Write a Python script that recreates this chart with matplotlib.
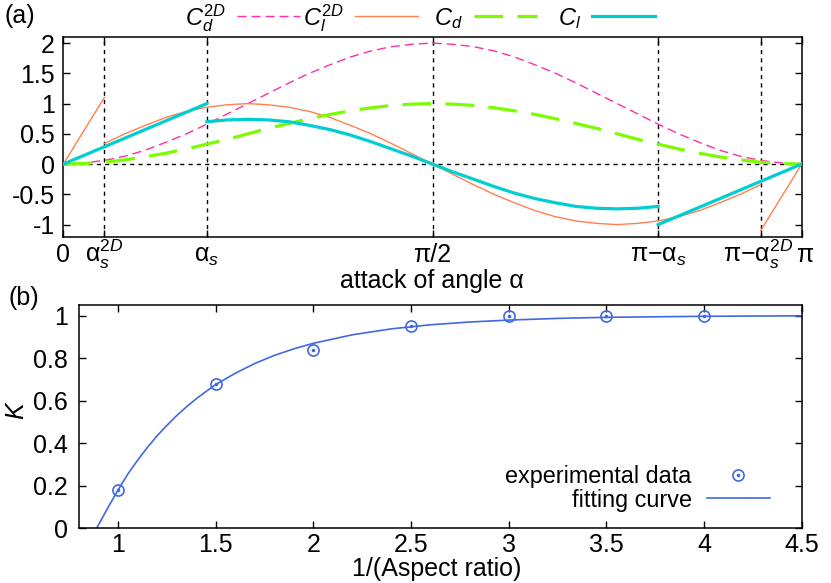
import matplotlib
matplotlib.use('Agg')
import matplotlib.pyplot as plt
from matplotlib.lines import Line2D
from matplotlib.transforms import ScaledTranslation
import numpy as np

# ---- panel (a): force coefficients vs angle of attack (degrees) ----
alpha_deg = list(range(0, 181, 5))

# 2D drag and 3D drag, sampled every 5 degrees
cd2d = [0.00, 0.02, 0.06, 0.13, 0.23, 0.36, 0.50, 0.66, 0.83, 1.00,
        1.17, 1.34, 1.50, 1.64, 1.77, 1.87, 1.94, 1.98, 2.00,
        1.98, 1.94, 1.87, 1.77, 1.64, 1.50, 1.34, 1.17, 1.00,
        0.83, 0.66, 0.50, 0.36, 0.23, 0.13, 0.06, 0.02, 0.00]
cd = [0.00, 0.01, 0.03, 0.07, 0.12, 0.18, 0.25, 0.33, 0.41, 0.50,
      0.59, 0.67, 0.75, 0.82, 0.88, 0.93, 0.97, 0.99, 1.00,
      0.99, 0.97, 0.93, 0.88, 0.82, 0.75, 0.67, 0.59, 0.50,
      0.41, 0.33, 0.25, 0.18, 0.12, 0.07, 0.03, 0.01, 0.00]

# 2D lift: linear before stall, smooth part, linear after
cl2d_start_deg = [0, 10]
cl2d_start = [0.00, 1.10]
cl2d_mid_deg = list(range(10, 171, 5))
cl2d_mid = [0.34, 0.50, 0.64, 0.77, 0.87, 0.94, 0.98, 1.00, 0.98, 0.94,
            0.87, 0.77, 0.64, 0.50, 0.34, 0.17, 0.00, -0.17, -0.34, -0.50,
            -0.64, -0.77, -0.87, -0.94, -0.98, -1.00, -0.98, -0.94, -0.87,
            -0.77, -0.64, -0.50, -0.34]
cl2d_end_deg = [170, 180]
cl2d_end = [-1.10, 0.00]

# 3D lift
cl_start_deg = [0, 35]
cl_start = [0.00, 1.00]
cl_mid_deg = list(range(35, 146, 5))
cl_mid = [0.70, 0.73, 0.74, 0.73, 0.70, 0.64, 0.57, 0.48, 0.37, 0.25,
          0.13, 0.00, -0.13, -0.25, -0.37, -0.48, -0.57, -0.64, -0.70,
          -0.73, -0.74, -0.73, -0.70]
cl_end_deg = [145, 180]
cl_end = [-1.00, 0.00]

# special angles
mark_deg = [10, 35, 90, 145, 170]
tick_deg = [0, 10, 35, 90, 145, 170, 180]
tick_labels = ['0', 'α$_s^{2D}$', 'α$_s$', 'π/2', 'π−α$_s$', 'π−α$_s^{2D}$', 'π']

# ---- panel (b): K vs 1/(aspect ratio) ----
inv_ar = [1.0, 1.5, 2.0, 2.5, 3.0, 3.5, 4.0]
k_exp = [0.18, 0.68, 0.84, 0.95, 1.00, 1.00, 1.00]
fit_x = [0.85, 0.89, 0.95, 1.0, 1.05, 1.1, 1.15, 1.2, 1.25, 1.3, 1.35, 1.4,
         1.45, 1.5, 1.6, 1.7, 1.8, 1.9, 2.0, 2.2, 2.4, 2.6, 2.8, 3.0,
         3.25, 3.5, 4.0, 4.5]
fit_k = [-0.08, 0.00, 0.10, 0.18, 0.255, 0.32, 0.38, 0.435, 0.484, 0.53,
         0.571, 0.609, 0.643, 0.676, 0.729, 0.775, 0.813, 0.844, 0.870,
         0.910, 0.938, 0.957, 0.970, 0.979, 0.987, 0.992, 0.997, 0.999]

# colours
PINK = '#ff2ea6'
ORANGE = '#ff7f50'
GREEN = '#7cfc00'
CYAN = '#00ced1'
BLUE = '#4169e1'

plt.rcParams['font.family'] = ['Liberation Sans', 'DejaVu Sans']
plt.rcParams['mathtext.fontset'] = 'custom'
plt.rcParams['mathtext.rm'] = 'Liberation Sans'
plt.rcParams['mathtext.it'] = 'Liberation Sans:italic'
plt.rcParams['font.size'] = 18

W, H = 831, 583
fig = plt.figure(figsize=(W / 100, H / 100), dpi=100)

# axes placed in pixel units
ax1 = fig.add_axes([63.3 / W, 1 - 236.7 / H, (801.7 - 63.3) / W, (236.7 - 37) / H])
ax2 = fig.add_axes([79 / W, 1 - 528.3 / H, (801.7 - 79) / W, (528.3 - 305) / H])

# styles
pink_kw = dict(color=PINK, lw=1.0, dashes=(6.5, 3.6))
orange_kw = dict(color=ORANGE, lw=1.0)
green_kw = dict(color=GREEN, lw=2.3, dashes=(9, 4.5))
cyan_kw = dict(color=CYAN, lw=2.3)

# ---------- panel (a) ----------
for m in mark_deg:
    ax1.axvline(m, color='black', lw=1, dashes=(3, 3), zorder=1)
ax1.axhline(0, color='black', lw=1, dashes=(3, 3), zorder=1)

ax1.plot(alpha_deg, cd2d, zorder=2, **pink_kw)
ax1.plot(cl2d_start_deg, cl2d_start, zorder=3, **orange_kw)
ax1.plot(cl2d_mid_deg, cl2d_mid, zorder=3, **orange_kw)
ax1.plot(cl2d_end_deg, cl2d_end, zorder=3, **orange_kw)
ax1.plot(alpha_deg, cd, zorder=4, **green_kw)
ax1.plot(cl_start_deg, cl_start, zorder=5, **cyan_kw)
ax1.plot(cl_mid_deg, cl_mid, zorder=5, **cyan_kw)
ax1.plot(cl_end_deg, cl_end, zorder=5, **cyan_kw)

ax1.set_xlim(0, 180)
ax1.set_ylim(-1.2, 2.1)
ax1.set_xticks(tick_deg)
ax1.set_xticklabels(tick_labels)
ax1.set_yticks([-1, -0.5, 0, 0.5, 1, 1.5, 2])
ax1.set_yticklabels(['-1', '-0.5', '0', '0.5', '1', '1.5', '2'])
ax1.tick_params(direction='in', top=True, right=True, length=5, width=1)
ax1.tick_params(axis='x', pad=18.2)
ax1.tick_params(axis='y', pad=6)
xlabs = ax1.get_xticklabels()
for lab in xlabs:
    lab.set_va('baseline')
# the last two labels sit close together; nudge them apart a little
xlabs[5].set_transform(xlabs[5].get_transform() + ScaledTranslation(-2 / 72, 0, fig.dpi_scale_trans))
xlabs[6].set_transform(xlabs[6].get_transform() + ScaledTranslation(2 / 72, 0, fig.dpi_scale_trans))

# ---------- panel (b) ----------
ax2.plot(fit_x, fit_k, color=BLUE, lw=1.2, zorder=2)
ax2.plot(inv_ar, k_exp, ls='none', marker='o', ms=8, mfc='none', mec=BLUE, mew=1.2, zorder=3)
ax2.plot(inv_ar, k_exp, ls='none', marker='o', ms=1.6, mfc=BLUE, mec=BLUE, zorder=3)

ax2.set_xlim(0.8, 4.5)
ax2.set_ylim(0, 1.05)
ax2.set_xticks([1, 1.5, 2, 2.5, 3, 3.5, 4, 4.5])
ax2.set_xticklabels(['1', '1.5', '2', '2.5', '3', '3.5', '4', '4.5'])
ax2.set_yticks([0, 0.2, 0.4, 0.6, 0.8, 1])
ax2.set_yticklabels(['0', '0.2', '0.4', '0.6', '0.8', '1'])
ax2.tick_params(direction='in', top=True, right=True, length=5, width=1)
ax2.tick_params(axis='x', pad=16.8)
ax2.tick_params(axis='y', pad=8)
for lab in ax2.get_xticklabels():
    lab.set_va('baseline')

for ax in (ax1, ax2):
    for s in ax.spines.values():
        s.set_linewidth(1.1)

# legend for (b), key text to the left of the sample
h_exp = (Line2D([], [], ls='none', marker='o', ms=8, mfc='none', mec=BLUE, mew=1.2),
         Line2D([], [], ls='none', marker='o', ms=1.6, mfc=BLUE, mec=BLUE))
h_fit = Line2D([], [], color=BLUE, lw=1.2)
ax2.legend([h_exp, h_fit], ['experimental data', 'fitting curve'],
           loc='lower right', bbox_to_anchor=(0.956, 0.075), markerfirst=False,
           frameon=False, fontsize=16.8, handlelength=2.7, handletextpad=0.65,
           labelspacing=0.02, borderpad=0, borderaxespad=0)

# ---------- legend row for (a) ----------
legend_a = [(r'$C_d^{2D}$', pink_kw), (r'$C_l^{2D}$', orange_kw),
            (r'$C_d$', green_kw), (r'$C_l$', cyan_kw)]
y_leg = 1 - 16 / H
for i, (lab, kw) in enumerate(legend_a):
    x0 = 237 + 118.3 * i
    fig.add_artist(Line2D([x0 / W, (x0 + 63) / W], [y_leg, y_leg],
                          transform=fig.transFigure, **kw))
    fig.text((x0 - 11) / W, 1 - 25 / H, lab, ha='right', va='baseline', fontsize=17)

# panel letters and axis labels
fig.text(5 / W, 1 - 16 / H, '(a)', ha='left', va='center')
fig.text(8 / W, 1 - 298 / H, '(b)', ha='left', va='center')
fig.text(432 / W, 1 - 288 / H, 'attack of angle α', ha='center', va='baseline')
fig.text(437 / W, 1 - 576 / H, '1/(Aspect ratio)', ha='center', va='baseline')
fig.text(17 / W, 1 - 410 / H, '$K$', ha='center', va='center', rotation=90)

fig.savefig('out.png', dpi=100)
